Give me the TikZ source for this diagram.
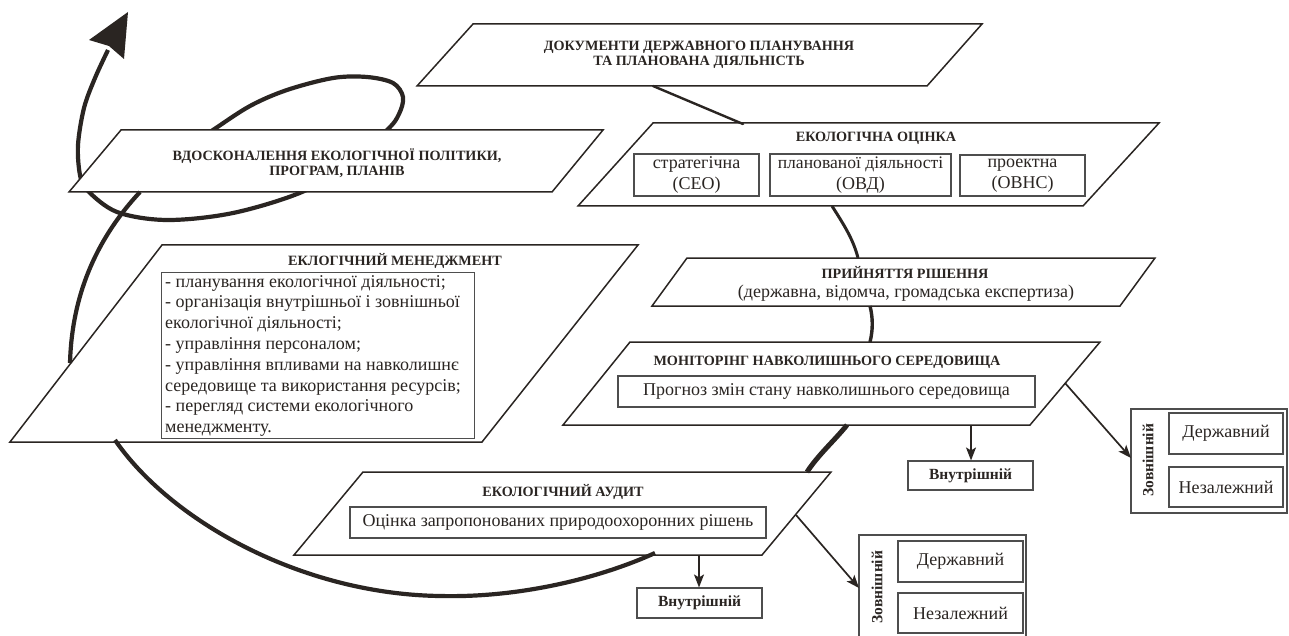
\documentclass[tikz,border=0pt]{standalone}
\usepackage{fontspec}
\setmainfont{Liberation Serif}
\usetikzlibrary{arrows.meta,calc}
\definecolor{ink}{HTML}{2A2522}
\definecolor{boxgray}{HTML}{4E4E4E}
\begin{document}
\begin{tikzpicture}[x=1pt,y=-1pt,
  pgram/.style={draw=ink, line width=1.5pt, fill=white, line join=miter},
  inbox/.style={draw=boxgray, line width=1.1pt, fill=white, inner sep=0pt, align=center},
  ttl/.style={font=\fontsize{14.2}{15.5}\selectfont\bfseries, text=ink, inner sep=0pt, align=center},
  lbl/.style={font=\fontsize{15.5}{17}\selectfont\bfseries, text=ink, inner sep=0pt, align=center},
  txt/.style={font=\fontsize{18}{21}\selectfont, text=ink},
  link/.style={draw=ink, line width=3pt, line cap=round},
  loopline/.style={draw=ink, line width=4.2pt},
  arr/.style={draw=ink, line width=1.7pt, -{Stealth[length=13pt,width=10pt,inset=3pt]}}
]
\useasboundingbox (0,0) rectangle (1289,636);

% ---- feedback loop (under the parallelogram)
\coordinate (lp0) at (195,142);
\coordinate (lpEnd) at (108,50);
\draw[loopline]
  plot[smooth, tension=0.55] coordinates {(lp0) (213,130) (250,106) (287,90) (333,78) (367,77) (393,83) (403,97) (399,114) (387,130) (345,165) (302,192) (233,213) (167,220) (117,212) (87,190) (80,175) (78,145) (84,108) (95,78) (lpEnd)};
\coordinate (tipA) at (128,12);
\coordinate (tipL) at (89,40);
\coordinate (tipN) at (109,46);
\coordinate (tipR) at (124,59);
\fill[ink] (tipA) -- (tipL) -- (tipN) -- (tipR) -- cycle;

% ---- parallelograms
\coordinate (docTL) at (473,24); \coordinate (docTR) at (982,24); \coordinate (docBR) at (927,86); \coordinate (docBL) at (417,86);
\coordinate (vdoTL) at (121,130); \coordinate (vdoTR) at (603,130); \coordinate (vdoBR) at (552,192); \coordinate (vdoBL) at (69,192);
\coordinate (otsTL) at (653,123); \coordinate (otsTR) at (1159,123); \coordinate (otsBR) at (1083,206); \coordinate (otsBL) at (578,206);
\coordinate (pryTL) at (687,258); \coordinate (pryTR) at (1155,258); \coordinate (pryBR) at (1120,306); \coordinate (pryBL) at (652,306);
\coordinate (monTL) at (630,342); \coordinate (monTR) at (1100,342); \coordinate (monBR) at (1030,425); \coordinate (monBL) at (563,425);
\coordinate (menTL) at (162,245); \coordinate (menTR) at (638,245); \coordinate (menBR) at (482,442); \coordinate (menBL) at (10,442);
\coordinate (audTL) at (363,472); \coordinate (audTR) at (831,472); \coordinate (audBR) at (762,555); \coordinate (audBL) at (294,555);

\foreach \p in {doc,vdo,ots,pry,mon,men,aud}
  \draw[pgram] (\p TL) -- (\p TR) -- (\p BR) -- (\p BL) -- cycle;

% ---- titles
\node[ttl] (docT) at (699,55) {ДОКУМЕНТИ ДЕРЖАВНОГО ПЛАНУВАННЯ\\ТА ПЛАНОВАНА ДІЯЛЬНІСТЬ};
\node[ttl] (vdoT) at (337,163) {ВДОСКОНАЛЕННЯ ЕКОЛОГІЧНОЇ ПОЛІТИКИ,\\ПРОГРАМ, ПЛАНІВ};
\node[ttl] (otsT) at (876,138) {ЕКОЛОГІЧНА ОЦІНКА};
\node[ttl] (pryT) at (905,272) {ПРИЙНЯТТЯ РІШЕННЯ};
\node[txt, inner sep=0pt] (pryS) at (906,293) {(державна, відомча, громадська експертиза)};
\node[ttl] (monT) at (827,362) {МОНІТОРІНГ НАВКОЛИШНЬОГО СЕРЕДОВИЩА};
\node[ttl] (menT) at (395,261) {ЕКЛОГІЧНИЙ МЕНЕДЖМЕНТ};
\node[ttl] (audT) at (563,492) {ЕКОЛОГІЧНИЙ АУДИТ};

% ---- inner boxes
\node[inbox, txt, inner sep=0pt, minimum width=125, minimum height=42] (sea) at (696.5,175) {стратегічна\\(СЕО)};
\node[inbox, txt, inner sep=0pt, minimum width=181, minimum height=42] (ovd) at (860.5,175) {\fontsize{17.6}{21}\selectfont планованої діяльності\\(ОВД)};
\node[inbox, txt, inner sep=0pt, minimum width=125, minimum height=41] (ovns) at (1022.5,175.5) {проектна\\(ОВНС)};
\node[inbox, txt, inner sep=0pt, minimum width=417, minimum height=31] (prog) at (826.5,391.5) {Прогноз змін стану навколишнього середовища};
\node[inbox, txt, inner sep=0pt, minimum width=416, minimum height=31] (otsr) at (558,522.5) {Оцінка запропонованих природоохоронних рішень};
\node[inbox, anchor=north west, minimum width=313, minimum height=166] (mbox) at (161,272) {};
\node[txt, anchor=north west, inner sep=0pt, align=left,
      font=\fontsize{18}{20.8}\selectfont] (mlist) at (165,275)
  {- планування екологічної діяльності;\\
   - організація внутрішньої і зовнішньої\\
   екологічної діяльності;\\
   - управління персоналом;\\
   - управління впливами на навколишнє\\
   середовище та використання ресурсів;\\
   - перегляд системи екологічного\\
   менеджменту.};

% ---- internal / external audit boxes
\node[inbox, lbl, minimum width=125, minimum height=29] (vn1) at (970.5,475.5) {Внутрішній};
\node[inbox, lbl, minimum width=125, minimum height=30] (vn2) at (699.5,603) {Внутрішній};

\node[inbox, minimum width=156, minimum height=104] (zov1) at (1209,461) {};
\node[inbox, txt, minimum width=114, minimum height=41] (der1) at (1226,433.5) {Державний};
\node[inbox, txt, minimum width=114, minimum height=40] (nez1) at (1226,487) {Незалежний};
\node[lbl, rotate=90] (zl1) at (1148,460) {Зовнішній};

\node[inbox, minimum width=167, minimum height=103] (zov2) at (942.5,586.5) {};
\node[inbox, txt, minimum width=125, minimum height=41] (der2) at (960.5,561.5) {Державний};
\node[inbox, txt, minimum width=125, minimum height=40] (nez2) at (960.5,613) {Незалежний};
\node[lbl, rotate=90] (zl2) at (877,587) {Зовнішній};

% ---- connectors between stages
\coordinate (c1a) at (653,86);  \coordinate (c1b) at (743,124);
\draw[link, line width=2.4pt] (c1a) -- (c1b);
\coordinate (c2a) at (832,206); \coordinate (c2b) at (858,258);
\draw[link, line cap=butt] (c2a) .. controls (842,222) and (853,238) .. (c2b);
\coordinate (c3a) at (870,306); \coordinate (c3b) at (870,342);
\draw[link, line width=3.4pt, line cap=butt] (c3a) .. controls (873,318) and (873,330) .. (c3b);
\coordinate (c4a) at (847,425); \coordinate (c4b) at (807,472);
\draw[link, line width=5pt, line cap=butt] (c4a) .. controls (835,440) and (818,455) .. (c4b);
\coordinate (c5a) at (655,553); \coordinate (c5m) at (440,596); \coordinate (c5b) at (115,440);
\draw[loopline] (c5a) .. controls (600,578) and (520,598) .. (c5m) .. controls (300,594) and (170,520) .. (c5b);
\coordinate (c6a) at (70,363); \coordinate (c6b) at (140,192);
\draw[loopline] (c6a) .. controls (72,290) and (100,235) .. (c6b);

% ---- arrows to audit boxes
\coordinate (m1) at (971,425);
\draw[arr] (m1) -- (vn1.north -| m1);
\coordinate (m2) at (1065,383); \coordinate (m2b) at (1131,458);
\draw[arr] (m2) -- (m2b);
\coordinate (a1) at (699,555);
\draw[arr] (a1) -- (vn2.north -| a1);
\coordinate (a2) at (796,515); \coordinate (a2b) at (859,588);
\draw[arr] (a2) -- (a2b);
\end{tikzpicture}
\end{document}
